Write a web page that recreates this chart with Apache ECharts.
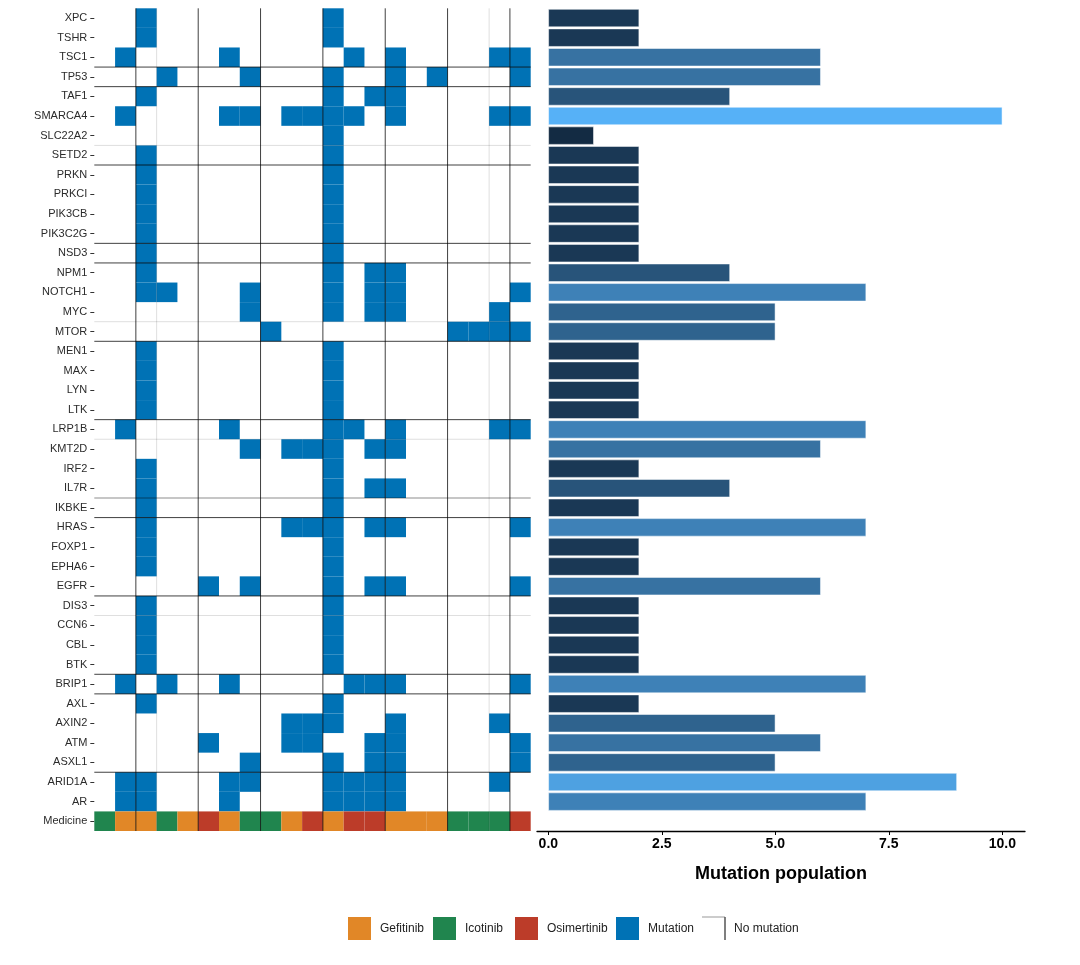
<!DOCTYPE html>
<html><head><meta charset="utf-8">
<script src="https://cdn.jsdelivr.net/npm/echarts@6/dist/echarts.min.js"></script>
<style>html,body{margin:0;padding:0;background:#fff;}#chart{width:1080px;height:965px;}</style>
</head><body><div id="chart"></div>
<script>
// ---------------- data ----------------
const genes = ['XPC','TSHR','TSC1','TP53','TAF1','SMARCA4','SLC22A2','SETD2','PRKN','PRKCI','PIK3CB','PIK3C2G','NSD3','NPM1','NOTCH1','MYC','MTOR','MEN1','MAX','LYN','LTK','LRP1B','KMT2D','IRF2','IL7R','IKBKE','HRAS','FOXP1','EPHA6','EGFR','DIS3','CCN6','CBL','BTK','BRIP1','AXL','AXIN2','ATM','ASXL1','ARID1A','AR'];
const samples = ['S1','S2','S3','S4','S5','S6','S7','S8','S9','S10','S11','S12','S13','S14','S15','S16','S17','S18','S19','S20','S21'];
// mutated sample numbers (1-based) for each gene, same order as genes
const mutatedSamples = [
  [3,12],[3,12],[2,7,13,15,20,21],[4,8,12,15,17,21],[3,12,14,15],
  [2,7,8,10,11,12,13,15,20,21],[12],[3,12],[3,12],[3,12],[3,12],[3,12],[3,12],
  [3,12,14,15],[3,4,8,12,14,15,21],[8,12,14,15,20],[9,18,19,20,21],
  [3,12],[3,12],[3,12],[3,12],[2,7,12,13,15,20,21],[8,10,11,12,14,15],
  [3,12],[3,12,14,15],[3,12],[3,10,11,12,14,15,21],[3,12],[3,12],
  [6,8,12,14,15,21],[3,12],[3,12],[3,12],[3,12],[2,4,7,13,14,15,21],
  [3,12],[10,11,12,15,20],[6,10,11,14,15,21],[8,12,14,15,21],
  [2,3,7,8,12,13,14,15,20],[2,3,7,12,13,14,15]
];
const mutationCount = [2,2,6,6,4,10,1,2,2,2,2,2,2,4,7,5,5,2,2,2,2,7,6,2,4,2,7,2,2,6,2,2,2,2,7,2,5,6,5,9,7];
const medicine = ['Icotinib','Gefitinib','Gefitinib','Icotinib','Gefitinib','Osimertinib','Gefitinib','Icotinib','Icotinib','Gefitinib','Osimertinib','Gefitinib','Osimertinib','Osimertinib','Gefitinib','Gefitinib','Gefitinib','Icotinib','Icotinib','Icotinib','Osimertinib'];
const legendLabels = ['Gefitinib','Icotinib','Osimertinib','Mutation','No mutation'];
const tickValues = [0, 2.5, 5, 7.5, 10];
// boundary lines of "No mutation" tiles (sample / row boundaries)
const vBoundDark = [2,5,8,11,14,17,20];
const vBoundLight = [3,19];
const hBoundDark = [3,4,8,12,13,17,21,26,30,34,35,39];
const hBoundMid = [25];
const hBoundLight = [7,16,22,31];

// ---------------- styles ----------------
const FONT = 'Liberation Sans, Arial, Helvetica, sans-serif';
const fillColors = {Gefitinib:'#E18727', Icotinib:'#20854E', Osimertinib:'#BC3C29', Mutation:'#0072B5'};
const lineColors = ['rgba(0,0,0,0.75)', 'rgba(0,0,0,0.45)', 'rgba(0,0,0,0.13)'];

// ggplot-like Lab gradient #132B43 -> #56B1F7
function hex2rgb(h){return [1,3,5].map(i=>parseInt(h.substr(i,2),16)/255);}
function lin(c){return c<=0.04045?c/12.92:Math.pow((c+0.055)/1.055,2.4);}
function delin(c){return c<=0.0031308?12.92*c:1.055*Math.pow(c,1/2.4)-0.055;}
const WN=[0.95047,1,1.08883];
function f(t){return t>0.008856?Math.cbrt(t):7.787*t+16/116;}
function fi(t){const t3=t*t*t;return t3>0.008856?t3:(t-16/116)/7.787;}
function toLab(h){const [r,g,b]=hex2rgb(h).map(lin);
  const X=(0.4124*r+0.3576*g+0.1805*b)/WN[0],Y=(0.2126*r+0.7152*g+0.0722*b)/WN[1],Z=(0.0193*r+0.1192*g+0.9505*b)/WN[2];
  const fx=f(X),fy=f(Y),fz=f(Z);return [116*fy-16,500*(fx-fy),200*(fy-fz)];}
function fromLab(L,a,b){const fy=(L+16)/116,fx=fy+a/500,fz=fy-b/200;
  const X=fi(fx)*WN[0],Y=fi(fy)*WN[1],Z=fi(fz)*WN[2];
  const r=3.2406*X-1.5372*Y-0.4986*Z,g=-0.9689*X+1.8758*Y+0.0415*Z,bb=0.0557*X-0.2040*Y+1.0570*Z;
  return 'rgb('+[r,g,bb].map(c=>Math.round(Math.max(0,Math.min(1,delin(c)))*255)).join(',')+')';}
const LOW=toLab('#132B43'),HIGH=toLab('#56B1F7');
const cMin=Math.min(...mutationCount),cMax=Math.max(...mutationCount);
function gradColor(v){const t=(v-cMin)/(cMax-cMin);return fromLab(LOW[0]+t*(HIGH[0]-LOW[0]),LOW[1]+t*(HIGH[1]-LOW[1]),LOW[2]+t*(HIGH[2]-LOW[2]));}

// ---------------- build ----------------
const rowLabels = genes.concat(['Medicine']);
const cellData = [];
mutatedSamples.forEach((cols,r)=>cols.forEach(c=>cellData.push([c-1,r,'Mutation'])));
medicine.forEach((m,c)=>cellData.push([c,genes.length,m]));

const lineData = [];
vBoundDark.forEach(v=>lineData.push([v,0,0]));
vBoundLight.forEach(v=>lineData.push([v,0,2]));
hBoundDark.forEach(v=>lineData.push([v,1,0]));
hBoundMid.forEach(v=>lineData.push([v,1,1]));
hBoundLight.forEach(v=>lineData.push([v,1,2]));

const barData = mutationCount.map(v=>({value:v,itemStyle:{color:gradColor(v)}})).concat([null]);

const chart = echarts.init(document.getElementById('chart'),null,{renderer:'canvas'});
const GT=8.3, GH=822.7;

const legendGraphics = [];
const legendX = [348,433,515,616,702];
legendLabels.forEach((lab,i)=>{
  const x=legendX[i];
  if(fillColors[lab]){
    legendGraphics.push({type:'rect',left:x,top:917,shape:{width:23,height:23},style:{fill:fillColors[lab]}});
  } else {
    legendGraphics.push({type:'polyline',shape:{points:[[x,917],[x+23,917],[x+23,940]]},style:{stroke:'#999',lineWidth:1,fill:null}});
    legendGraphics.push({type:'line',shape:{x1:x+23,y1:917,x2:x+23,y2:940},style:{stroke:'#333',lineWidth:1}});
  }
  legendGraphics.push({type:'text',left:x+32,top:923,style:{text:lab,font:'12px '+FONT,fill:'#222'}});
});

chart.setOption({
  animation:false,
  backgroundColor:'#fff',
  grid:[
    {left:94.3,top:GT,width:436.4,height:GH},
    {left:537,top:GT,width:488,height:GH}
  ],
  xAxis:[
    {type:'category',gridIndex:0,data:samples,show:false},
    {type:'value',gridIndex:0,min:0,max:samples.length,show:false},
    {type:'value',gridIndex:1,min:-0.25,max:10.5,
      axisLine:{show:true,lineStyle:{color:'#000',width:1.3}},
      axisTick:{show:true,customValues:tickValues,length:4,lineStyle:{color:'#000',width:1}},
      axisLabel:{customValues:tickValues,formatter:v=>v.toFixed(1),fontFamily:FONT,fontWeight:'bold',fontSize:14,color:'#000',margin:6},
      splitLine:{show:false},
      name:'Mutation population',nameLocation:'middle',nameGap:34,
      nameTextStyle:{fontFamily:FONT,fontWeight:'bold',fontSize:18,color:'#000'}}
  ],
  yAxis:[
    {type:'category',gridIndex:0,data:rowLabels,inverse:true,
      axisLine:{show:false},
      axisTick:{show:true,alignWithLabel:true,length:4,lineStyle:{color:'#333'}},
      axisLabel:{fontFamily:FONT,fontSize:11,color:'#2b2b2b',margin:7}},
    {type:'value',gridIndex:0,min:0,max:rowLabels.length,inverse:true,show:false},
    {type:'category',gridIndex:1,data:rowLabels,inverse:true,show:false}
  ],
  series:[
    {type:'custom',xAxisIndex:0,yAxisIndex:0,data:cellData,
      renderItem:(params,api)=>{
        const p=api.coord([api.value(0),api.value(1)]);const s=api.size([1,1]);
        const d=cellData[params.dataIndex];
        return {type:'rect',shape:{x:p[0]-s[0]/2,y:p[1]-s[1]/2,width:s[0],height:s[1]},style:{fill:fillColors[d[2]]}};
      }},
    {type:'custom',xAxisIndex:1,yAxisIndex:1,data:lineData,z:5,
      renderItem:(params,api)=>{
        const v=api.value(0),o=api.value(1),k=api.value(2);
        let p1,p2;
        if(o===0){p1=api.coord([v,0]);p2=api.coord([v,rowLabels.length]);}
        else {p1=api.coord([0,v]);p2=api.coord([samples.length,v]);}
        return {type:'line',shape:{x1:p1[0],y1:p1[1],x2:p2[0],y2:p2[1]},style:{stroke:lineColors[k],lineWidth:1}};
      }},
    {type:'bar',xAxisIndex:2,yAxisIndex:2,data:barData,barCategoryGap:'8%',
      itemStyle:{borderColor:'#fff',borderWidth:0.5}}
  ],
  graphic:legendGraphics
});
</script></body></html>
